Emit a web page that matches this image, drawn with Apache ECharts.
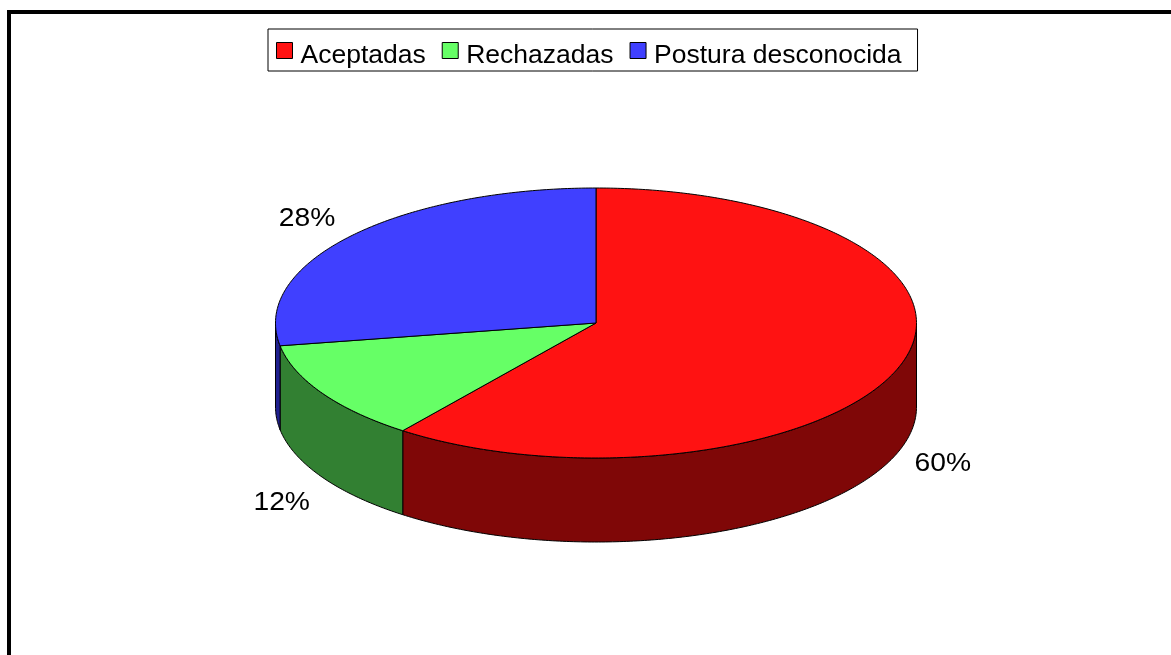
<!DOCTYPE html>
<html>
	<head>
		<meta http-equiv="Content-Type" content="text/html; charset=utf-8" />
		<title>Posturas</title>
		<style>
			body, html { padding: 0; margin: 0; background: #fff; }
		</style>
	</head>
	<body>
		<div id="container" style="width: 1171px; height: 655px"></div>
		<script src="https://cdnjs.cloudflare.com/ajax/libs/echarts/6.0.0/echarts.min.js"></script>
		<script>
			var categories = ['Aceptadas', 'Rechazadas', 'Postura desconocida'];
			// the labels show them rounded
			var values = [60.3, 12, 27.7];
			var topColors = ['#ff1212', '#66ff66', '#4040ff'];
			var sideColors = ['#7f0707', '#328032', '#20208f'];

			// ellipse of the top face and height of the wall
			var cx = 596, cy = 323, rx = 320.5, ry = 135, depth = 84;
			// label offset from the rim point at the middle of each slice
			var labelOffsets = [[43, 98], [-40.5, 110], [-44, -17]];

			var total = values.reduce(function (a, b) { return a + b; }, 0);

			function rim(a, dy) {
				return [cx + rx * Math.sin(a), cy - ry * Math.cos(a) + (dy || 0)];
			}

			function arcPoints(a0, a1, dy) {
				var pts = [];
				var n = Math.max(2, Math.ceil(Math.abs(a1 - a0) * 90));
				for (var i = 0; i <= n; i++) {
					pts.push(rim(a0 + (a1 - a0) * i / n, dy));
				}
				return pts;
			}

			function makeRender(idx) {
				return function (params, api) {
					var before = 0;
					for (var i = 0; i < idx; i++) before += values[i];
					var a0 = before / total * Math.PI * 2;
					var a1 = (before + api.value(0)) / total * Math.PI * 2;
					var children = [];
					// the wall only shows on the front half
					var s0 = Math.max(a0, Math.PI / 2), s1 = Math.min(a1, Math.PI * 1.5);
					if (s1 > s0) {
						children.push({
							type: 'polygon',
							shape: { points: arcPoints(s0, s1, 0).concat(arcPoints(s1, s0, depth)) },
							style: { fill: sideColors[idx], stroke: '#000', lineWidth: 1 }
						});
					}
					children.push({
						type: 'polygon',
						shape: { points: [[cx, cy]].concat(arcPoints(a0, a1, 0)) },
						style: { fill: topColors[idx], stroke: '#000', lineWidth: 1, lineJoin: 'round' }
					});
					var mid = rim((a0 + a1) / 2);
					children.push({
						type: 'text',
						x: mid[0] + labelOffsets[idx][0],
						y: mid[1] + labelOffsets[idx][1],
						scaleX: 1.13,
						style: {
							text: Math.round(api.value(0)) + '%',
							fontFamily: 'Liberation Sans',
							fontSize: 25,
							fill: '#000',
							align: 'center',
							verticalAlign: 'middle'
						}
					});
					return { type: 'group', children: children };
				};
			}

			var chart = echarts.init(document.getElementById('container'));
			chart.setOption({
				animation: false,
				backgroundColor: '#fff',
				graphic: [
					{ type: 'rect', shape: { x: 7, y: 10, width: 1164, height: 4 }, style: { fill: '#000' } },
					{ type: 'rect', shape: { x: 7, y: 10, width: 4, height: 645 }, style: { fill: '#000' } }
				],
				legend: {
					left: 268,
					top: 29,
					orient: 'horizontal',
					padding: [13, 16, 2, 8],
					itemWidth: 16,
					itemHeight: 16,
					itemGap: 16,
					borderColor: '#000',
					borderWidth: 1,
					icon: 'rect',
					itemStyle: { borderColor: '#000', borderWidth: 1 },
					formatter: '{t|{name}}',
					textStyle: {
						rich: {
							t: { fontFamily: 'Liberation Sans', fontSize: 26.5, color: '#000', padding: [10, 0, 0, 3] }
						}
					},
					data: categories
				},
				series: categories.map(function (name, i) {
					return {
						type: 'custom',
						name: name,
						coordinateSystem: 'none',
						silent: true,
						itemStyle: { color: topColors[i] },
						renderItem: makeRender(i),
						data: [values[i]]
					};
				})
			});
		</script>
	</body>
</html>
